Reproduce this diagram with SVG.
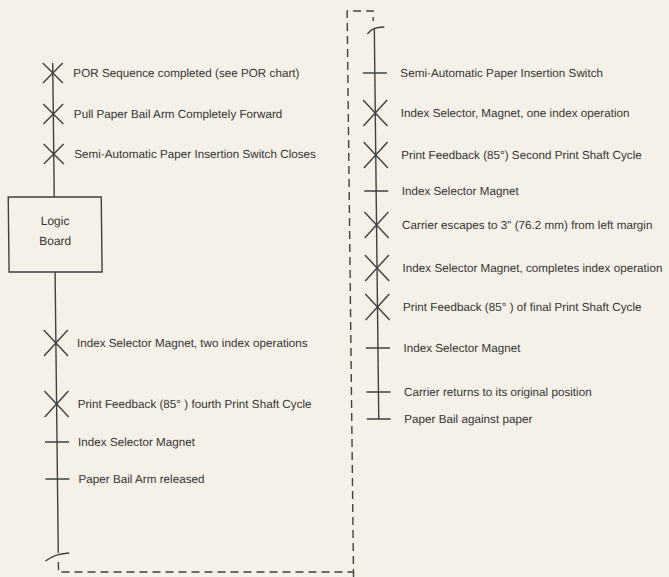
<svg xmlns="http://www.w3.org/2000/svg" width="669" height="577" viewBox="0 0 669 577">
<style>
.ln{stroke:#404040;stroke-width:1.4;fill:none}
.ds{stroke:#404040;stroke-width:1.4;fill:none;stroke-dasharray:8 5}
.t{font-family:"Liberation Sans",Arial,sans-serif;font-size:11.7px;fill:#363636}
.c{font-family:"Liberation Sans",Arial,sans-serif;font-size:12px;fill:#363636;text-anchor:middle}
</style>
<defs>
<path id="xs" class="ln" d="M-10,-10 L10,10 M10,-10 L-10,10"/>
<path id="xl" class="ln" d="M-12,-13 L12,13 M12,-13 L-12,13"/>
<path id="tk" class="ln" d="M-12,0 L12,0"/>
</defs>
<rect width="669" height="577" fill="#f5f1e8"/>
<g transform="skewX(0.65)">
<g id="connectors">
<path class="ln" d="M52,63 V197 M52,272 V553"/>
<path class="ln" d="M39,561 C45,557 50,554 63,553"/>
<path class="ds" d="M52,562 V572 H347"/>
<path class="ds" d="M347,577 V11 H373 V21"/>
<path class="ln" d="M367,34 C371,29 375,27 384,27"/>
<path class="ln" d="M374,29 V419"/>
</g>
<g id="logic-board">
<rect class="ln" x="6" y="197" width="93" height="75"/>
<text class="c" x="52.5" y="225">Logic</text>
<text class="c" x="52.5" y="245">Board</text>
</g>
<g id="l1"><use href="#xs" x="52" y="73"/><text class="t" x="72.5" y="77">POR Sequence completed (see POR chart)</text></g>
<g id="l2"><use href="#xs" x="52" y="114"/><text class="t" x="72.5" y="118">Pull Paper Bail Arm Completely Forward</text></g>
<g id="l3"><use href="#xs" x="52" y="154"/><text class="t" x="72.5" y="158">Semi-Automatic Paper Insertion Switch Closes</text></g>
<g id="l4"><use href="#xl" x="52" y="343"/><text class="t" x="73" y="347">Index Selector Magnet, two index operations</text></g>
<g id="l5"><use href="#xl" x="52" y="404"/><text class="t" x="73" y="408">Print Feedback (85° ) fourth Print Shaft Cycle</text></g>
<g id="l6"><use href="#tk" x="52" y="442"/><text class="t" x="73" y="446">Index Selector Magnet</text></g>
<g id="l7"><use href="#tk" x="52" y="479"/><text class="t" x="73" y="483">Paper Bail Arm released</text></g>
<g id="r1"><use href="#tk" x="374" y="73"/><text class="t" x="399.5" y="77">Semi-Automatic Paper Insertion Switch</text></g>
<g id="r2"><use href="#xl" x="374" y="113"/><text class="t" x="399.5" y="117">Index Selector, Magnet, one index operation</text></g>
<g id="r3"><use href="#xl" x="374" y="155"/><text class="t" x="399.5" y="159">Print Feedback (85°) Second Print Shaft Cycle</text></g>
<g id="r4"><use href="#tk" x="374" y="191"/><text class="t" x="399.5" y="195">Index Selector Magnet</text></g>
<g id="r5"><use href="#xl" x="374" y="225"/><text class="t" x="399.5" y="229">Carrier escapes to 3" (76.2 mm) from left margin</text></g>
<g id="r6"><use href="#xl" x="374" y="268"/><text class="t" x="399.5" y="272">Index Selector Magnet, completes index operation</text></g>
<g id="r7"><use href="#xl" x="374" y="307"/><text class="t" x="399.5" y="311">Print Feedback (85° ) of final Print Shaft Cycle</text></g>
<g id="r8"><use href="#tk" x="374" y="348"/><text class="t" x="399.5" y="352">Index Selector Magnet</text></g>
<g id="r9"><use href="#tk" x="374" y="392"/><text class="t" x="399.5" y="396">Carrier returns to its original position</text></g>
<g id="r10"><use href="#tk" x="374" y="419"/><text class="t" x="399.5" y="423">Paper Bail against paper</text></g>
</g>
</svg>
